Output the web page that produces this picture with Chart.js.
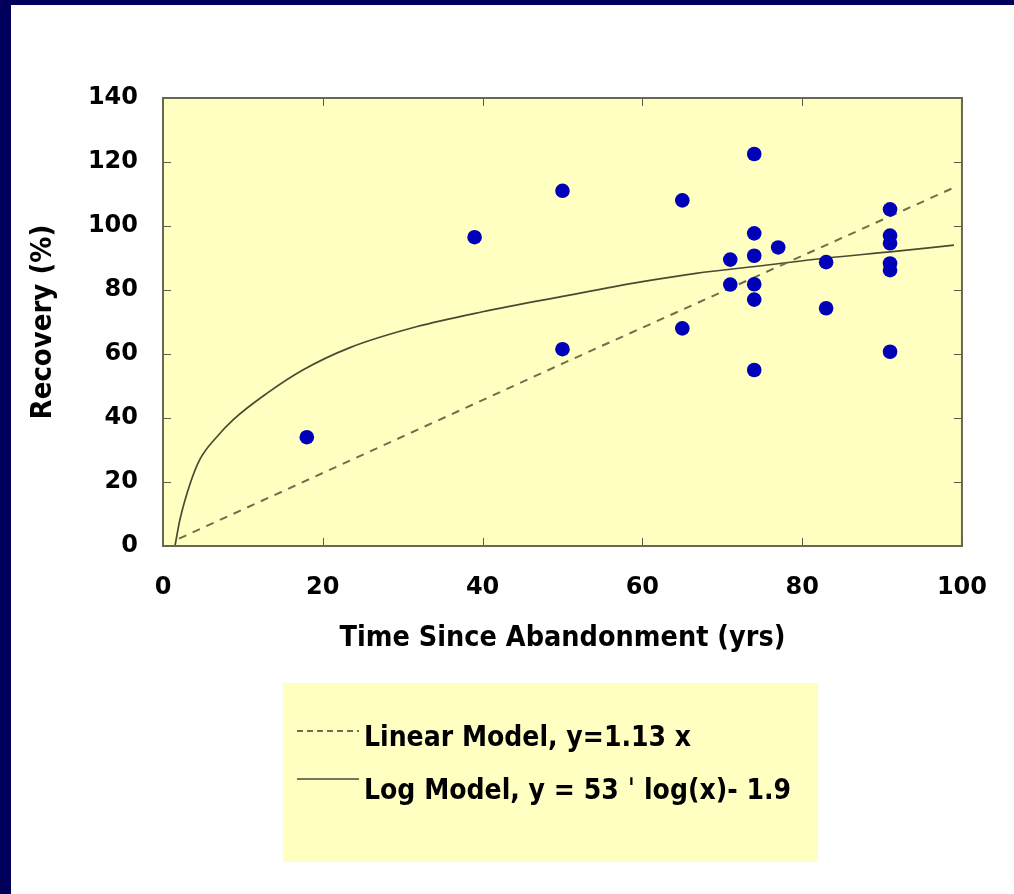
<!DOCTYPE html>
<html>
<head>
<meta charset="utf-8">
<script src="https://cdn.jsdelivr.net/npm/chart.js@4.4.1/dist/chart.umd.min.js"></script>
<style>
  html, body { margin: 0; padding: 0; background: #ffffff; width: 1014px; height: 894px; overflow: hidden; }
  #bandTop { position: absolute; left: 0; top: 0; width: 1014px; height: 5px; background: #00005a; }
  #bandLeft { position: absolute; left: 0; top: 0; width: 11px; height: 894px; background: #00005a; }
  #wrap { position: absolute; left: 11px; top: 5px; width: 1003px; height: 889px; }
</style>
</head>
<body>
<div id="bandTop"></div>
<div id="bandLeft"></div>
<div id="wrap"><canvas id="c" width="1003" height="889"></canvas></div>
<script>
// ---- Data ----
const obsX = [18, 39, 50, 50, 65, 65, 71, 71, 74, 74, 74, 74, 74, 74, 77, 83, 83, 91, 91, 91, 91, 91, 91];
const obsY = [34, 96.5, 111, 61.5, 108, 68, 89.5, 81.7, 122.5, 97.7, 90.7, 81.8, 77, 55, 93.3, 88.7, 74.3, 105.2, 97, 94.6, 88.3, 86.2, 60.7];

const linX = [2, 50, 99];
const linY = [2.3, 57, 112];

const logX = [1.5, 2.1, 3.4, 4.6, 6.7, 8.8, 13, 17.5, 23.4, 31.7, 40, 50, 60, 66.7, 74.6, 83, 91.3, 99];
const logY = [0, 8, 19.5, 27, 34, 39.5, 47.7, 55, 62, 68.5, 73.2, 78, 82.6, 85.2, 87.5, 90, 92, 94];

const xTickValues = [0, 20, 40, 60, 80, 100];
const yTickValues = [0, 20, 40, 60, 80, 100, 120, 140];

const xTitle = 'Time Since Abandonment (yrs)';
const yTitle = 'Recovery (%)';
const linLabel = 'Linear Model, y=1.13 x';
const logLabel = 'Log Model, y = 53 \u02C8 log(x)- 1.9';

// ---- Styles ----
const PLOT_BG = '#ffffc2';
const FRAME = '#676756';
const DASH_COLOR = '#6f6f4c';
const SOLID_COLOR = '#4a4a34';
const DOT = '#0000b8';
const TXT = '#000000';
const FONT_NUM = "'DejaVu Sans', sans-serif";
const FONT_COND = "'DejaVu Sans Condensed', 'Liberation Sans Narrow', 'DejaVu Sans', sans-serif";

const zip = (xs, ys) => xs.map((x, i) => ({ x: x, y: ys[i] }));

const framePlugin = {
  id: 'framePlugin',
  beforeDraw(chart) {
    const a = chart.chartArea, ctx = chart.ctx;
    ctx.save();
    ctx.fillStyle = PLOT_BG;
    ctx.fillRect(a.left, a.top, a.right - a.left, a.bottom - a.top);
    ctx.restore();
  },
  afterDraw(chart) {
    const a = chart.chartArea, ctx = chart.ctx;
    const xs = chart.scales.x, ys = chart.scales.y;
    ctx.save();
    // inward ticks on all four sides
    ctx.strokeStyle = '#5a5a4a';
    ctx.lineWidth = 1;
    const tl = 8;
    xTickValues.forEach(v => {
      const px = Math.round(xs.getPixelForValue(v)) + 0.5;
      ctx.beginPath();
      ctx.moveTo(px, a.bottom); ctx.lineTo(px, a.bottom - tl);
      ctx.moveTo(px, a.top); ctx.lineTo(px, a.top + tl);
      ctx.stroke();
    });
    yTickValues.forEach(v => {
      const py = Math.round(ys.getPixelForValue(v)) + 0.5;
      ctx.beginPath();
      ctx.moveTo(a.left, py); ctx.lineTo(a.left + tl, py);
      ctx.moveTo(a.right, py); ctx.lineTo(a.right - tl, py);
      ctx.stroke();
    });
    // frame
    ctx.strokeStyle = FRAME;
    ctx.lineWidth = 2;
    ctx.strokeRect(a.left, a.top, a.right - a.left, a.bottom - a.top);

    // legend box
    const lg = chart.options.plugins.boxLegend;
    ctx.fillStyle = PLOT_BG;
    ctx.fillRect(lg.left, lg.top, lg.width, lg.height);
    const items = chart.data.datasets.filter(d => d.inLegend);
    items.forEach((d, i) => {
      const rowY = lg.top + lg.firstRow + i * lg.rowGap;
      ctx.strokeStyle = d.borderColor;
      ctx.lineWidth = d.borderWidth;
      ctx.setLineDash(d.legendDash || []);
      ctx.beginPath();
      ctx.moveTo(lg.left + lg.sampleX0, rowY + d.sampleDy);
      ctx.lineTo(lg.left + lg.sampleX1, rowY + d.sampleDy);
      ctx.stroke();
      ctx.setLineDash([]);
      ctx.fillStyle = TXT;
      ctx.font = lg.font;
      ctx.textBaseline = 'middle';
      ctx.textAlign = 'left';
      ctx.fillText(d.label, lg.left + lg.textX, rowY);
    });
    ctx.restore();
  }
};

const cfg = {
  type: 'scatter',
  data: {
    datasets: [
      {
        label: 'Observed',
        data: zip(obsX, obsY),
        backgroundColor: DOT,
        borderWidth: 0,
        pointRadius: 7.3,
        pointHoverRadius: 7.3,
        inLegend: false
      },
      {
        label: linLabel,
        type: 'line',
        data: zip(linX, linY),
        borderColor: DASH_COLOR,
        borderWidth: 2,
        borderDash: [8, 7],
        legendDash: [6, 4],
        pointRadius: 0,
        fill: false,
        inLegend: true,
        sampleDy: -8
      },
      {
        label: logLabel,
        type: 'line',
        data: zip(logX, logY),
        borderColor: SOLID_COLOR,
        borderWidth: 1.7,
        cubicInterpolationMode: 'monotone',
        pointRadius: 0,
        fill: false,
        inLegend: true,
        sampleDy: -13
      }
    ]
  },
  options: {
    responsive: false,
    devicePixelRatio: 1,
    animation: false,
    layout: { padding: { left: 0, top: 93, right: 51, bottom: 234 } },
    plugins: {
      legend: { display: false },
      tooltip: { enabled: false },
      boxLegend: {
        left: 272, top: 678, width: 535, height: 179,
        firstRow: 56, rowGap: 53,
        sampleX0: 14, sampleX1: 76, textX: 81,
        font: "bold 28px " + FONT_COND
      }
    },
    scales: {
      x: {
        type: 'linear',
        min: 0, max: 100,
        afterBuildTicks(s) { s.ticks = xTickValues.map(v => ({ value: v })); },
        afterFit(s) { s.height = 114; },
        grid: { display: false, drawTicks: false },
        border: { display: false },
        ticks: { color: TXT, padding: 27, font: { family: FONT_NUM, size: 24, weight: 'bold' }, maxRotation: 0 },
        title: { display: true, text: xTitle, color: TXT, padding: { top: 0, bottom: 4 }, font: { family: FONT_COND, size: 28.5, weight: 'bold' } }
      },
      y: {
        type: 'linear',
        min: 0, max: 140,
        afterBuildTicks(s) { s.ticks = yTickValues.map(v => ({ value: v })); },
        afterFit(s) { s.width = 152; },
        grid: { display: false, drawTicks: false },
        border: { display: false },
        ticks: { color: TXT, padding: 25, font: { family: FONT_NUM, size: 24, weight: 'bold' } },
        title: { display: true, text: yTitle, color: TXT, padding: { top: 15, bottom: 0 }, font: { family: FONT_COND, size: 29, weight: 'bold' } }
      }
    }
  },
  plugins: [framePlugin]
};

new Chart(document.getElementById('c'), cfg);
</script>
</body>
</html>
